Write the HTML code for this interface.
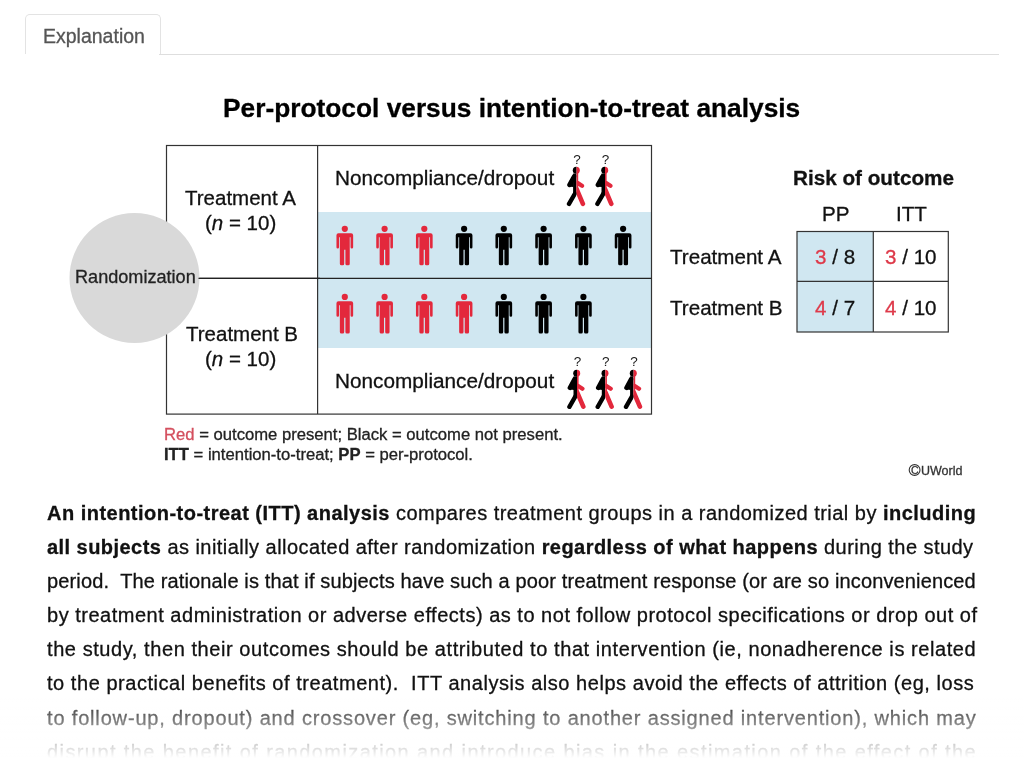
<!DOCTYPE html>
<html>
<head>
<meta charset="utf-8">
<style>
html,body{margin:0;padding:0;background:#fff;width:1024px;height:768px;overflow:hidden;}
body{font-family:"Liberation Sans",sans-serif;color:#000;position:relative;-webkit-text-stroke:0.3px currentColor;}
.abs{position:absolute;white-space:nowrap;line-height:normal;will-change:transform;}
#tab{position:absolute;left:25px;top:14px;width:134px;height:38.5px;border:1px solid #e3e3e3;border-bottom:none;border-radius:5px 5px 0 0;background:#fff;}
#tabline{position:absolute;left:159px;top:54px;width:840px;height:1px;background:#dedede;}
#tabtxt{left:42.6px;top:25.2px;font-size:19.5px;color:#555;}
#title{left:223.3px;top:93.3px;font-size:26.3px;font-weight:bold;color:#000;}
#fig{position:absolute;left:0;top:0;width:1024px;height:768px;}
.t20{font-size:20.6px;color:#111;}
.t205{font-size:20.5px;color:#111;}
.red{color:#de3a4a;}
#para{position:absolute;left:46.8px;top:502.1px;will-change:transform;width:960px;font-size:20px;color:#111;}
#para div{height:34.1px;line-height:normal;white-space:nowrap;}
#fade{position:absolute;left:0;top:693px;width:1024px;height:75px;background:linear-gradient(rgba(255,255,255,0) 0px, rgba(255,255,255,0.45) 28px, rgba(255,255,255,0.8) 51px, #fff 65px, #fff 75px);}
</style>
</head>
<body>
<div id="tab"></div>
<div id="tabline"></div>
<div class="abs" id="tabtxt">Explanation</div>
<div class="abs" id="title">Per-protocol versus intention-to-treat analysis</div>

<svg id="fig" width="1024" height="768" viewBox="0 0 1024 768">
  <defs>
    <clipPath id="cl"><rect x="-20" y="-5" width="20" height="50"/></clipPath>
<clipPath id="cr"><rect x="0" y="-5" width="20" height="50"/></clipPath>
  </defs>
  <!-- blue bands -->
  <rect x="318" y="212" width="333" height="136" fill="#d0e7f1"/>
  <!-- box -->
  <rect x="166.5" y="145.5" width="485" height="268.6" fill="none" stroke="#333" stroke-width="1.2"/>
  <line x1="317.6" y1="145.5" x2="317.6" y2="414" stroke="#333" stroke-width="1.2"/>
  <line x1="166.5" y1="278.4" x2="651.5" y2="278.4" stroke="#222" stroke-width="1.2"/>
  <circle cx="134.5" cy="278" r="65" fill="#d9d9d9"/>
  <line x1="198.5" y1="278.4" x2="320" y2="278.4" stroke="#222" stroke-width="1.2"/>
  <!-- men row A -->
  <g fill="#e3283c">
    <g transform="translate(344.8,225.7)"><circle cx="0" cy="3.1" r="3.1"/>
      <path d="M-6.3,7.5 H6.3 Q8.35,7.5 8.35,9.5 V21.6 Q8.35,22.9 7.05,22.9 Q5.75,22.9 5.75,21.6 V11.5 H4.95 V38.1 Q4.95,39.6 3.45,39.6 H2.1 Q0.6,39.6 0.6,38.1 V24 H-0.6 V38.1 Q-0.6,39.6 -2.1,39.6 H-3.45 Q-4.95,39.6 -4.95,38.1 V11.5 H-5.75 V21.6 Q-5.75,22.9 -7.05,22.9 Q-8.35,22.9 -8.35,21.6 V9.5 Q-8.35,7.5 -6.3,7.5 Z"/></g>
    <g transform="translate(384.6,225.7)"><circle cx="0" cy="3.1" r="3.1"/>
      <path d="M-6.3,7.5 H6.3 Q8.35,7.5 8.35,9.5 V21.6 Q8.35,22.9 7.05,22.9 Q5.75,22.9 5.75,21.6 V11.5 H4.95 V38.1 Q4.95,39.6 3.45,39.6 H2.1 Q0.6,39.6 0.6,38.1 V24 H-0.6 V38.1 Q-0.6,39.6 -2.1,39.6 H-3.45 Q-4.95,39.6 -4.95,38.1 V11.5 H-5.75 V21.6 Q-5.75,22.9 -7.05,22.9 Q-8.35,22.9 -8.35,21.6 V9.5 Q-8.35,7.5 -6.3,7.5 Z"/></g>
    <g transform="translate(424.3,225.7)"><circle cx="0" cy="3.1" r="3.1"/>
      <path d="M-6.3,7.5 H6.3 Q8.35,7.5 8.35,9.5 V21.6 Q8.35,22.9 7.05,22.9 Q5.75,22.9 5.75,21.6 V11.5 H4.95 V38.1 Q4.95,39.6 3.45,39.6 H2.1 Q0.6,39.6 0.6,38.1 V24 H-0.6 V38.1 Q-0.6,39.6 -2.1,39.6 H-3.45 Q-4.95,39.6 -4.95,38.1 V11.5 H-5.75 V21.6 Q-5.75,22.9 -7.05,22.9 Q-8.35,22.9 -8.35,21.6 V9.5 Q-8.35,7.5 -6.3,7.5 Z"/></g>
  </g>
  <g fill="#000">
    <g transform="translate(464.1,225.7)"><circle cx="0" cy="3.1" r="3.1"/>
      <path d="M-6.3,7.5 H6.3 Q8.35,7.5 8.35,9.5 V21.6 Q8.35,22.9 7.05,22.9 Q5.75,22.9 5.75,21.6 V11.5 H4.95 V38.1 Q4.95,39.6 3.45,39.6 H2.1 Q0.6,39.6 0.6,38.1 V24 H-0.6 V38.1 Q-0.6,39.6 -2.1,39.6 H-3.45 Q-4.95,39.6 -4.95,38.1 V11.5 H-5.75 V21.6 Q-5.75,22.9 -7.05,22.9 Q-8.35,22.9 -8.35,21.6 V9.5 Q-8.35,7.5 -6.3,7.5 Z"/></g>
    <g transform="translate(503.8,225.7)"><circle cx="0" cy="3.1" r="3.1"/>
      <path d="M-6.3,7.5 H6.3 Q8.35,7.5 8.35,9.5 V21.6 Q8.35,22.9 7.05,22.9 Q5.75,22.9 5.75,21.6 V11.5 H4.95 V38.1 Q4.95,39.6 3.45,39.6 H2.1 Q0.6,39.6 0.6,38.1 V24 H-0.6 V38.1 Q-0.6,39.6 -2.1,39.6 H-3.45 Q-4.95,39.6 -4.95,38.1 V11.5 H-5.75 V21.6 Q-5.75,22.9 -7.05,22.9 Q-8.35,22.9 -8.35,21.6 V9.5 Q-8.35,7.5 -6.3,7.5 Z"/></g>
    <g transform="translate(543.6,225.7)"><circle cx="0" cy="3.1" r="3.1"/>
      <path d="M-6.3,7.5 H6.3 Q8.35,7.5 8.35,9.5 V21.6 Q8.35,22.9 7.05,22.9 Q5.75,22.9 5.75,21.6 V11.5 H4.95 V38.1 Q4.95,39.6 3.45,39.6 H2.1 Q0.6,39.6 0.6,38.1 V24 H-0.6 V38.1 Q-0.6,39.6 -2.1,39.6 H-3.45 Q-4.95,39.6 -4.95,38.1 V11.5 H-5.75 V21.6 Q-5.75,22.9 -7.05,22.9 Q-8.35,22.9 -8.35,21.6 V9.5 Q-8.35,7.5 -6.3,7.5 Z"/></g>
    <g transform="translate(583.4,225.7)"><circle cx="0" cy="3.1" r="3.1"/>
      <path d="M-6.3,7.5 H6.3 Q8.35,7.5 8.35,9.5 V21.6 Q8.35,22.9 7.05,22.9 Q5.75,22.9 5.75,21.6 V11.5 H4.95 V38.1 Q4.95,39.6 3.45,39.6 H2.1 Q0.6,39.6 0.6,38.1 V24 H-0.6 V38.1 Q-0.6,39.6 -2.1,39.6 H-3.45 Q-4.95,39.6 -4.95,38.1 V11.5 H-5.75 V21.6 Q-5.75,22.9 -7.05,22.9 Q-8.35,22.9 -8.35,21.6 V9.5 Q-8.35,7.5 -6.3,7.5 Z"/></g>
    <g transform="translate(623.1,225.7)"><circle cx="0" cy="3.1" r="3.1"/>
      <path d="M-6.3,7.5 H6.3 Q8.35,7.5 8.35,9.5 V21.6 Q8.35,22.9 7.05,22.9 Q5.75,22.9 5.75,21.6 V11.5 H4.95 V38.1 Q4.95,39.6 3.45,39.6 H2.1 Q0.6,39.6 0.6,38.1 V24 H-0.6 V38.1 Q-0.6,39.6 -2.1,39.6 H-3.45 Q-4.95,39.6 -4.95,38.1 V11.5 H-5.75 V21.6 Q-5.75,22.9 -7.05,22.9 Q-8.35,22.9 -8.35,21.6 V9.5 Q-8.35,7.5 -6.3,7.5 Z"/></g>
  </g>
  <!-- men row B -->
  <g fill="#e3283c">
    <g transform="translate(344.8,293.8)"><circle cx="0" cy="3.1" r="3.1"/>
      <path d="M-6.3,7.5 H6.3 Q8.35,7.5 8.35,9.5 V21.6 Q8.35,22.9 7.05,22.9 Q5.75,22.9 5.75,21.6 V11.5 H4.95 V38.1 Q4.95,39.6 3.45,39.6 H2.1 Q0.6,39.6 0.6,38.1 V24 H-0.6 V38.1 Q-0.6,39.6 -2.1,39.6 H-3.45 Q-4.95,39.6 -4.95,38.1 V11.5 H-5.75 V21.6 Q-5.75,22.9 -7.05,22.9 Q-8.35,22.9 -8.35,21.6 V9.5 Q-8.35,7.5 -6.3,7.5 Z"/></g>
    <g transform="translate(384.6,293.8)"><circle cx="0" cy="3.1" r="3.1"/>
      <path d="M-6.3,7.5 H6.3 Q8.35,7.5 8.35,9.5 V21.6 Q8.35,22.9 7.05,22.9 Q5.75,22.9 5.75,21.6 V11.5 H4.95 V38.1 Q4.95,39.6 3.45,39.6 H2.1 Q0.6,39.6 0.6,38.1 V24 H-0.6 V38.1 Q-0.6,39.6 -2.1,39.6 H-3.45 Q-4.95,39.6 -4.95,38.1 V11.5 H-5.75 V21.6 Q-5.75,22.9 -7.05,22.9 Q-8.35,22.9 -8.35,21.6 V9.5 Q-8.35,7.5 -6.3,7.5 Z"/></g>
    <g transform="translate(424.3,293.8)"><circle cx="0" cy="3.1" r="3.1"/>
      <path d="M-6.3,7.5 H6.3 Q8.35,7.5 8.35,9.5 V21.6 Q8.35,22.9 7.05,22.9 Q5.75,22.9 5.75,21.6 V11.5 H4.95 V38.1 Q4.95,39.6 3.45,39.6 H2.1 Q0.6,39.6 0.6,38.1 V24 H-0.6 V38.1 Q-0.6,39.6 -2.1,39.6 H-3.45 Q-4.95,39.6 -4.95,38.1 V11.5 H-5.75 V21.6 Q-5.75,22.9 -7.05,22.9 Q-8.35,22.9 -8.35,21.6 V9.5 Q-8.35,7.5 -6.3,7.5 Z"/></g>
    <g transform="translate(464.1,293.8)"><circle cx="0" cy="3.1" r="3.1"/>
      <path d="M-6.3,7.5 H6.3 Q8.35,7.5 8.35,9.5 V21.6 Q8.35,22.9 7.05,22.9 Q5.75,22.9 5.75,21.6 V11.5 H4.95 V38.1 Q4.95,39.6 3.45,39.6 H2.1 Q0.6,39.6 0.6,38.1 V24 H-0.6 V38.1 Q-0.6,39.6 -2.1,39.6 H-3.45 Q-4.95,39.6 -4.95,38.1 V11.5 H-5.75 V21.6 Q-5.75,22.9 -7.05,22.9 Q-8.35,22.9 -8.35,21.6 V9.5 Q-8.35,7.5 -6.3,7.5 Z"/></g>
  </g>
  <g fill="#000">
    <g transform="translate(503.8,293.8)"><circle cx="0" cy="3.1" r="3.1"/>
      <path d="M-6.3,7.5 H6.3 Q8.35,7.5 8.35,9.5 V21.6 Q8.35,22.9 7.05,22.9 Q5.75,22.9 5.75,21.6 V11.5 H4.95 V38.1 Q4.95,39.6 3.45,39.6 H2.1 Q0.6,39.6 0.6,38.1 V24 H-0.6 V38.1 Q-0.6,39.6 -2.1,39.6 H-3.45 Q-4.95,39.6 -4.95,38.1 V11.5 H-5.75 V21.6 Q-5.75,22.9 -7.05,22.9 Q-8.35,22.9 -8.35,21.6 V9.5 Q-8.35,7.5 -6.3,7.5 Z"/></g>
    <g transform="translate(543.6,293.8)"><circle cx="0" cy="3.1" r="3.1"/>
      <path d="M-6.3,7.5 H6.3 Q8.35,7.5 8.35,9.5 V21.6 Q8.35,22.9 7.05,22.9 Q5.75,22.9 5.75,21.6 V11.5 H4.95 V38.1 Q4.95,39.6 3.45,39.6 H2.1 Q0.6,39.6 0.6,38.1 V24 H-0.6 V38.1 Q-0.6,39.6 -2.1,39.6 H-3.45 Q-4.95,39.6 -4.95,38.1 V11.5 H-5.75 V21.6 Q-5.75,22.9 -7.05,22.9 Q-8.35,22.9 -8.35,21.6 V9.5 Q-8.35,7.5 -6.3,7.5 Z"/></g>
    <g transform="translate(583.4,293.8)"><circle cx="0" cy="3.1" r="3.1"/>
      <path d="M-6.3,7.5 H6.3 Q8.35,7.5 8.35,9.5 V21.6 Q8.35,22.9 7.05,22.9 Q5.75,22.9 5.75,21.6 V11.5 H4.95 V38.1 Q4.95,39.6 3.45,39.6 H2.1 Q0.6,39.6 0.6,38.1 V24 H-0.6 V38.1 Q-0.6,39.6 -2.1,39.6 H-3.45 Q-4.95,39.6 -4.95,38.1 V11.5 H-5.75 V21.6 Q-5.75,22.9 -7.05,22.9 Q-8.35,22.9 -8.35,21.6 V9.5 Q-8.35,7.5 -6.3,7.5 Z"/></g>
  </g>
  <!-- walkers -->
  <g transform="translate(576.6,166.5)"><g fill="#000" stroke="#000" stroke-linecap="round" clip-path="url(#cl)">
        <circle cx="-0.3" cy="3.8" r="3.5" stroke="none"/>
        <rect x="-3.5" y="7" width="3.6" height="21" stroke="none"/>
        <line x1="-2.4" y1="9.8" x2="-7.1" y2="18.4" stroke-width="4.6"/>
        <path d="M-3,12 L-6.5,20.2 L-3,20.6 Z" stroke="none"/>
        <line x1="-1.6" y1="27" x2="-7.6" y2="37.4" stroke-width="4.4"/>
      </g>
      <g fill="#e3283c" stroke="#e3283c" stroke-linecap="round" clip-path="url(#cr)">
        <circle cx="-0.3" cy="3.8" r="3.5" stroke="none"/>
        <rect x="-1" y="6.5" width="2.6" height="20" stroke="none"/>
        <line x1="0.8" y1="16.4" x2="5.4" y2="19.3" stroke-width="4.3"/>
        <line x1="0.2" y1="23" x2="6.3" y2="37.3" stroke-width="4.6"/>
      </g></g>
  <g transform="translate(605,166.5)"><g fill="#000" stroke="#000" stroke-linecap="round" clip-path="url(#cl)">
        <circle cx="-0.3" cy="3.8" r="3.5" stroke="none"/>
        <rect x="-3.5" y="7" width="3.6" height="21" stroke="none"/>
        <line x1="-2.4" y1="9.8" x2="-7.1" y2="18.4" stroke-width="4.6"/>
        <path d="M-3,12 L-6.5,20.2 L-3,20.6 Z" stroke="none"/>
        <line x1="-1.6" y1="27" x2="-7.6" y2="37.4" stroke-width="4.4"/>
      </g>
      <g fill="#e3283c" stroke="#e3283c" stroke-linecap="round" clip-path="url(#cr)">
        <circle cx="-0.3" cy="3.8" r="3.5" stroke="none"/>
        <rect x="-1" y="6.5" width="2.6" height="20" stroke="none"/>
        <line x1="0.8" y1="16.4" x2="5.4" y2="19.3" stroke-width="4.3"/>
        <line x1="0.2" y1="23" x2="6.3" y2="37.3" stroke-width="4.6"/>
      </g></g>
  <g transform="translate(577,369.4)"><g fill="#000" stroke="#000" stroke-linecap="round" clip-path="url(#cl)">
        <circle cx="-0.3" cy="3.8" r="3.5" stroke="none"/>
        <rect x="-3.5" y="7" width="3.6" height="21" stroke="none"/>
        <line x1="-2.4" y1="9.8" x2="-7.1" y2="18.4" stroke-width="4.6"/>
        <path d="M-3,12 L-6.5,20.2 L-3,20.6 Z" stroke="none"/>
        <line x1="-1.6" y1="27" x2="-7.6" y2="37.4" stroke-width="4.4"/>
      </g>
      <g fill="#e3283c" stroke="#e3283c" stroke-linecap="round" clip-path="url(#cr)">
        <circle cx="-0.3" cy="3.8" r="3.5" stroke="none"/>
        <rect x="-1" y="6.5" width="2.6" height="20" stroke="none"/>
        <line x1="0.8" y1="16.4" x2="5.4" y2="19.3" stroke-width="4.3"/>
        <line x1="0.2" y1="23" x2="6.3" y2="37.3" stroke-width="4.6"/>
      </g></g>
  <g transform="translate(605.3,369.4)"><g fill="#000" stroke="#000" stroke-linecap="round" clip-path="url(#cl)">
        <circle cx="-0.3" cy="3.8" r="3.5" stroke="none"/>
        <rect x="-3.5" y="7" width="3.6" height="21" stroke="none"/>
        <line x1="-2.4" y1="9.8" x2="-7.1" y2="18.4" stroke-width="4.6"/>
        <path d="M-3,12 L-6.5,20.2 L-3,20.6 Z" stroke="none"/>
        <line x1="-1.6" y1="27" x2="-7.6" y2="37.4" stroke-width="4.4"/>
      </g>
      <g fill="#e3283c" stroke="#e3283c" stroke-linecap="round" clip-path="url(#cr)">
        <circle cx="-0.3" cy="3.8" r="3.5" stroke="none"/>
        <rect x="-1" y="6.5" width="2.6" height="20" stroke="none"/>
        <line x1="0.8" y1="16.4" x2="5.4" y2="19.3" stroke-width="4.3"/>
        <line x1="0.2" y1="23" x2="6.3" y2="37.3" stroke-width="4.6"/>
      </g></g>
  <g transform="translate(633.6,369.4)"><g fill="#000" stroke="#000" stroke-linecap="round" clip-path="url(#cl)">
        <circle cx="-0.3" cy="3.8" r="3.5" stroke="none"/>
        <rect x="-3.5" y="7" width="3.6" height="21" stroke="none"/>
        <line x1="-2.4" y1="9.8" x2="-7.1" y2="18.4" stroke-width="4.6"/>
        <path d="M-3,12 L-6.5,20.2 L-3,20.6 Z" stroke="none"/>
        <line x1="-1.6" y1="27" x2="-7.6" y2="37.4" stroke-width="4.4"/>
      </g>
      <g fill="#e3283c" stroke="#e3283c" stroke-linecap="round" clip-path="url(#cr)">
        <circle cx="-0.3" cy="3.8" r="3.5" stroke="none"/>
        <rect x="-1" y="6.5" width="2.6" height="20" stroke="none"/>
        <line x1="0.8" y1="16.4" x2="5.4" y2="19.3" stroke-width="4.3"/>
        <line x1="0.2" y1="23" x2="6.3" y2="37.3" stroke-width="4.6"/>
      </g></g>
  <g font-family="Liberation Sans" font-size="13.5" fill="#1a1a1a" text-anchor="middle">
    <text x="577" y="163.6">?</text>
    <text x="605.4" y="163.6">?</text>
    <text x="577.4" y="366">?</text>
    <text x="605.7" y="366">?</text>
    <text x="634" y="366">?</text>
  </g>
  <!-- risk table -->
  <rect x="797" y="231.5" width="76.3" height="100.5" fill="#d0e7f1"/>
  <rect x="797" y="231.5" width="151.3" height="100.5" fill="none" stroke="#333" stroke-width="1.2"/>
  <line x1="873.3" y1="231.5" x2="873.3" y2="332" stroke="#333" stroke-width="1.2"/>
  <line x1="797" y1="281.3" x2="948.3" y2="281.3" stroke="#333" stroke-width="1.2"/>
</svg>

<div class="abs t205" style="left:185.2px;top:186.4px;">Treatment A</div>
<div class="abs t205" style="left:204.8px;top:210.9px;">(<i>n</i> = 10)</div>
<div class="abs t205" style="left:185.6px;top:322.4px;">Treatment B</div>
<div class="abs t205" style="left:205.2px;top:347px;">(<i>n</i> = 10)</div>
<div class="abs" style="left:74.8px;top:267.2px;font-size:18.1px;color:#222;">Randomization</div>
<div class="abs" style="left:335.2px;top:165.8px;font-size:20.75px;color:#111;">Noncompliance/dropout</div>
<div class="abs" style="left:335.2px;top:368.9px;font-size:20.75px;color:#111;">Noncompliance/dropout</div>

<div class="abs" style="left:793.2px;top:166.3px;font-size:20.7px;font-weight:bold;color:#111;">Risk of outcome</div>
<div class="abs t20" style="left:821.5px;top:201.8px;">PP</div>
<div class="abs t20" style="left:895.5px;top:201.8px;">ITT</div>
<div class="abs t20" style="left:670px;top:245.1px;">Treatment A</div>
<div class="abs t20" style="left:670px;top:295.8px;">Treatment B</div>
<div class="abs t20" style="left:815px;top:245.1px;"><span class="red">3</span> / 8</div>
<div class="abs t20" style="left:884.5px;top:245.1px;"><span class="red">3</span> / 10</div>
<div class="abs t20" style="left:815px;top:295.8px;"><span class="red">4</span> / 7</div>
<div class="abs t20" style="left:884.5px;top:295.8px;"><span class="red">4</span> / 10</div>

<div class="abs" style="left:164.4px;top:425px;font-size:16.65px;color:#222;"><span style="color:#d44f5e;">Red</span> = outcome present; Black = outcome not present.</div>
<div class="abs" style="left:164.4px;top:445.4px;font-size:16.65px;color:#222;"><b>ITT</b> = intention-to-treat; <b>PP</b> = per-protocol.</div>
<svg style="position:absolute;left:907px;top:463px" width="16" height="16" viewBox="0 0 16 16"><circle cx="7.6" cy="7" r="5.4" fill="none" stroke="#333" stroke-width="1.1"/><text x="7.7" y="10.6" font-family="Liberation Sans" font-size="10.5" fill="#333" stroke="#333" stroke-width="0.25" text-anchor="middle">C</text></svg>
<div class="abs" style="left:920.8px;top:463.6px;font-size:12.5px;color:#333;">UWorld</div>

<div id="para">
<div style="letter-spacing:0.4817px"><b>An intention-to-treat (ITT) analysis</b> compares treatment groups in a randomized trial by <b>including</b></div>
<div style="letter-spacing:0.455px"><b>all subjects</b> as initially allocated after randomization <b>regardless of what happens</b> during the study</div>
<div style="letter-spacing:0.1368px">period.&nbsp; The rationale is that if subjects have such a poor treatment response (or are so inconvenienced</div>
<div style="letter-spacing:0.511px">by treatment administration or adverse effects) as to not follow protocol specifications or drop out of</div>
<div style="letter-spacing:0.574px">the study, then their outcomes should be attributed to that intervention (ie, nonadherence is related</div>
<div style="letter-spacing:0.543px">to the practical benefits of treatment).&nbsp; ITT analysis also helps avoid the effects of attrition (eg, loss</div>
<div style="letter-spacing:0.8355px">to follow-up, dropout) and crossover (eg, switching to another assigned intervention), which may</div>
<div style="letter-spacing:1.4062px">disrupt the benefit of randomization and introduce bias in the estimation of the effect of the</div>
</div>
<div id="fade"></div>
</body>
</html>
